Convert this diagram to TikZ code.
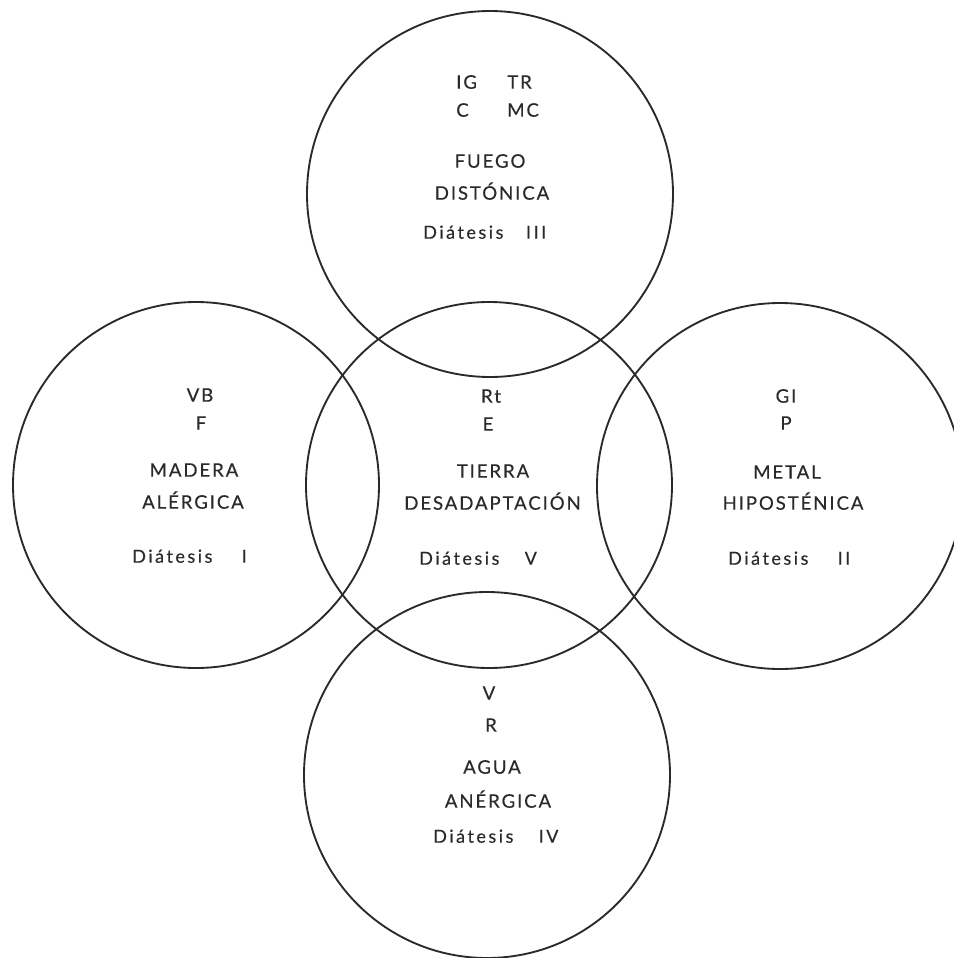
\documentclass[tikz,border=0pt]{standalone}
\usepackage{fontspec}
\setmainfont{Lato}[LetterSpace=10,FakeBold=0.3]
\newfontfamily\diafont[LetterSpace=14,FakeBold=0.3]{Lato}
\definecolor{ink}{HTML}{2A2A2A}
\begin{document}
\begin{tikzpicture}[x=0.75pt,y=-0.75pt,
  ring/.style={circle,draw=ink,line width=1.4pt,minimum size=274.5pt,inner sep=0pt},
  lbl/.style={anchor=base,inner sep=0pt,text=ink,font=\fontsize{14}{16}\selectfont},
  lblw/.style={lbl,anchor=base west},
  dia/.style={lbl,anchor=base west,font=\fontsize{13.5}{16}\selectfont\diafont}]
\useasboundingbox (0,0) rectangle (954,958);
\fill[white] (0,0) rectangle (954,958);
% circles
\node[ring] (fuego)  at (490,194) {};
\node[ring] (madera) at (196,485) {};
\node[ring] (tierra) at (489,485) {};
\node[ring] (metal)  at (780,486) {};
\node[ring] (agua)   at (487,775) {};
% FUEGO
\node[lblw] (ig) at (456,88.7) {IG};
\node[lblw] (tr) at (507,88.7) {TR};
\node[lblw] (c)  at (456,116.7) {C};
\node[lblw] (mc) at (507,116.7) {MC};
\node[lbl] (fuegot) at (490,167.7) {FUEGO};
\node[lbl] (disto) at (492,199.7) {DISTÓNICA};
\node[dia] (d3) at (423,238.7) {Diátesis\hspace{17pt}III};
% MADERA
\node[lbl] (vb) at (200,401.7) {VB};
\node[lbl] (f) at (201,429.7) {F};
\node[lbl] (maderat) at (194,476.7) {MADERA};
\node[lbl] (alerg) at (193,508.7) {ALÉRGICA};
\node[dia] (d1) at (132,562.7) {Diátesis\hspace{22pt}I};
% TIERRA
\node[lbl] (rt) at (491,402.7) {Rt};
\node[lbl] (e) at (488,430.7) {E};
\node[lbl] (tierrat) at (493,477.7) {TIERRA};
\node[lbl] (desad) at (492.5,509.7) {DESADAPTACIÓN};
\node[dia] (d5) at (419,564.7) {Diátesis\hspace{19pt}V};
% METAL
\node[lbl] (gi) at (786,402.7) {GI};
\node[lbl] (p) at (786,429.7) {P};
\node[lbl] (metalt) at (787,478.7) {METAL};
\node[lbl] (hipo) at (793,509.7) {HIPOSTÉNICA};
\node[dia] (d2) at (728,564.7) {Diátesis\hspace{22pt}II};
% AGUA
\node[lbl] (v) at (489,699.7) {V};
\node[lbl] (r) at (491,731.7) {R};
\node[lbl] (aguat) at (492,773.7) {AGUA};
\node[lbl] (anerg) at (498,807.7) {ANÉRGICA};
\node[dia] (d4) at (433,842.7) {Diátesis\hspace{19pt}IV};
\end{tikzpicture}
\end{document}
